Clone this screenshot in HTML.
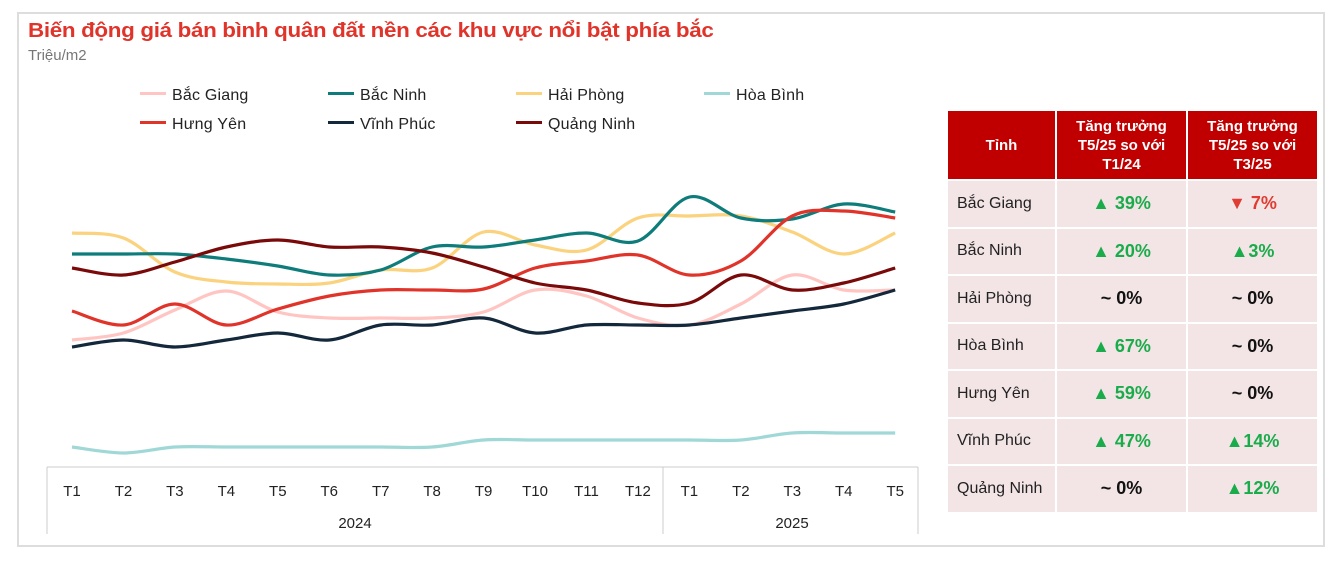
<!DOCTYPE html>
<html><head><meta charset="utf-8"><style>
body{margin:0;width:1339px;height:563px;background:#fff;font-family:"Liberation Sans",sans-serif;position:relative;overflow:hidden}
.card{position:absolute;left:17px;top:12px;width:1308px;height:535px;border:2px solid #ddd;box-sizing:border-box}
.title{position:absolute;left:28px;top:20px;font-size:20px;font-weight:bold;color:#e0342b;letter-spacing:-0.3px;transform:scaleX(1.12);transform-origin:left top;white-space:nowrap}
.sub{position:absolute;left:28px;top:47px;font-size:15px;color:#777}
.lg{position:absolute;font-size:16px;color:#222;letter-spacing:0.2px}
.lg i{display:inline-block;width:26px;height:3px;vertical-align:middle;margin-right:6px;position:relative;top:-2px}
table{position:absolute;left:948px;top:111px;border-collapse:separate;border-spacing:2px;margin:-2px}
td{background:#f3e5e6;height:45.5px;font-size:16px;color:#222;padding:0}
th{background:#c00000;color:#fff;font-size:15px;font-weight:bold;height:66px;line-height:19px}
td.n{padding-left:9px;width:96px}
td.v{text-align:center;font-weight:bold;font-size:18px;width:129px}
.g{color:#1aab4b}.r{color:#e03c31}.k{color:#111}
</style></head><body>
<div class="card"></div>
<div class="title">Biến động giá bán bình quân đất nền các khu vực nổi bật phía bắc</div>
<div class="sub">Triệu/m2</div>
<div class="lg" style="left:140px;top:87px"><i style="background:#ffc5c2"></i>Bắc Giang</div>
<div class="lg" style="left:328px;top:87px"><i style="background:#0e7c7b"></i>Bắc Ninh</div>
<div class="lg" style="left:516px;top:87px"><i style="background:#fbd27d"></i>Hải Phòng</div>
<div class="lg" style="left:704px;top:87px"><i style="background:#9fd8d6"></i>Hòa Bình</div>
<div class="lg" style="left:140px;top:116px"><i style="background:#e0342b"></i>Hưng Yên</div>
<div class="lg" style="left:328px;top:116px"><i style="background:#14283c"></i>Vĩnh Phúc</div>
<div class="lg" style="left:516px;top:116px"><i style="background:#7a0a0a"></i>Quảng Ninh</div>
<svg id="s" width="1339" height="563" style="position:absolute;left:0;top:0">
<g stroke="#ccc" stroke-width="1"><line x1="47" y1="467" x2="918" y2="467"/><line x1="47" y1="467" x2="47" y2="534"/><line x1="663" y1="467" x2="663" y2="534"/><line x1="918" y1="467" x2="918" y2="534"/></g>
<g id="lines" fill="none" stroke-width="3.2"></g>
<g id="lab" font-size="15" fill="#222" text-anchor="middle"></g>
<text x="355" y="528" font-size="15" fill="#222" text-anchor="middle">2024</text>
<text x="792" y="528" font-size="15" fill="#222" text-anchor="middle">2025</text>
</svg>
<table>
<tr><th style="width:105px">Tỉnh</th><th>Tăng trưởng<br>T5/25 so với<br>T1/24</th><th>Tăng trưởng<br>T5/25 so với<br>T3/25</th></tr>
<tr><td class="n">Bắc Giang</td><td class="v g">▲ 39%</td><td class="v r">▼ 7%</td></tr>
<tr><td class="n">Bắc Ninh</td><td class="v g">▲ 20%</td><td class="v g">▲3%</td></tr>
<tr><td class="n">Hải Phòng</td><td class="v k">~ 0%</td><td class="v k">~ 0%</td></tr>
<tr><td class="n">Hòa Bình</td><td class="v g">▲ 67%</td><td class="v k">~ 0%</td></tr>
<tr><td class="n">Hưng Yên</td><td class="v g">▲ 59%</td><td class="v k">~ 0%</td></tr>
<tr><td class="n">Vĩnh Phúc</td><td class="v g">▲ 47%</td><td class="v g">▲14%</td></tr>
<tr><td class="n">Quảng Ninh</td><td class="v k">~ 0%</td><td class="v g">▲12%</td></tr>
</table>
<script>
var xs=[];for(var i=0;i<17;i++)xs.push(72+i*51.45);
var S=[
["#9fd8d6",[447,453,447,447,447,447,447,447,440,440,440,440,440,440,433,433,433]],
["#ffc5c2",[340,333,310,291,312,318,318,318,312,290,296,318,325,304,275,290,290]],
["#fbd27d",[233,238,272,282,284,283,270,268,232,245,250,218,216,216,232,254,233]],
["#0e7c7b",[254,254,254,259,266,275,270,247,247,240,233,241,197,218,219,204,212]],
["#e0342b",[311,325,304,325,309,296,290,290,289,268,261,255,275,261,216,211,218]],
["#7a0a0a",[268,275,262,247,240,247,247,253,267,283,290,303,303,275,290,283,268]],
["#14283c",[347,340,347,340,333,340,325,325,318,333,325,325,325,318,311,304,290]]];
var g=document.getElementById('lines'),ns="http://www.w3.org/2000/svg";
S.forEach(function(s){var y=s[1],d="M"+xs[0]+","+y[0];
for(var i=0;i<16;i++){var p0=i?i-1:0,p3=i+2<17?i+2:16;
d+=" C"+(xs[i]+(xs[i+1]-xs[p0])/6)+","+(y[i]+(y[i+1]-y[p0])/6)+" "+(xs[i+1]-(xs[p3]-xs[i])/6)+","+(y[i+1]-(y[p3]-y[i])/6)+" "+xs[i+1]+","+y[i+1];}
var p=document.createElementNS(ns,"path");p.setAttribute("d",d);p.setAttribute("stroke",s[0]);g.appendChild(p);});
var L=document.getElementById('lab'),n=["T1","T2","T3","T4","T5","T6","T7","T8","T9","T10","T11","T12","T1","T2","T3","T4","T5"];
n.forEach(function(t,i){var e=document.createElementNS(ns,"text");e.setAttribute("x",xs[i]);e.setAttribute("y",496);e.textContent=t;L.appendChild(e);});
</script>
</body></html>
